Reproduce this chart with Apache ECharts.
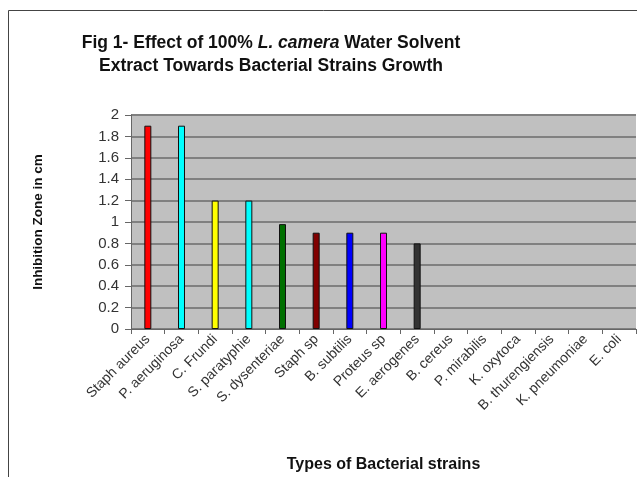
<!DOCTYPE html>
<html>
<head>
<meta charset="utf-8">
<script src="https://cdn.jsdelivr.net/npm/echarts@6/dist/echarts.min.js"></script>
<style>html,body{margin:0;padding:0;background:#fff;}#c{width:637px;height:477px;}</style>
</head>
<body>
<div id="c"></div>
<script>
var categories = ['Staph aureus','P. aeruginosa','C. Frundi','S. paratyphie','S. dysenteriae','Staph sp','B. subtilis','Proteus sp','E. aerogenes','B. cereus','P. mirabilis','K. oxytoca','B. thurengiensis','K. pneumoniae','E. coli'];
var values = [1.9, 1.9, 1.2, 1.2, 0.98, 0.9, 0.9, 0.9, 0.8, 0, 0, 0, 0, 0, 0];
var barColors = ['#ff0000','#00ffff','#ffff00','#00ffff','#007000','#800000','#0000ff','#ff00ff','#333333','#999999','#999999','#999999','#999999','#999999','#999999'];
var yTicks = [0, 0.2, 0.4, 0.6, 0.8, 1, 1.2, 1.4, 1.6, 1.8, 2];

var chart = echarts.init(document.getElementById('c'), null, {renderer: 'canvas'});
chart.setOption({
  animation: false,
  backgroundColor: '#ffffff',
  graphic: [{
    type: 'rect', shape: {x: 8.5, y: 10.5, width: 700, height: 600},
    style: {fill: 'none', stroke: '#444', lineWidth: 1}, z: -10
  }],
  title: {
    left: 266, top: 27, textAlign: 'center',
    text: '{a|Fig 1- Effect of 100% }{i|L. camera}{a| Water Solvent}\n{a|Extract Towards Bacterial Strains Growth}',
    textStyle: {
      rich: {
        a: {fontFamily: 'Liberation Sans, Arial', fontSize: 17.5, fontWeight: 'bold', color: '#111', lineHeight: 23},
        i: {fontFamily: 'Liberation Sans, Arial', fontSize: 17.5, fontWeight: 'bold', fontStyle: 'italic', color: '#111', lineHeight: 23}
      }
    }
  },
  grid: {left: 131, top: 115, right: 1, bottom: 148, containLabel: false,
    show: true, backgroundColor: '#c0c0c0', borderWidth: 0},
  xAxis: {
    type: 'category', data: categories,
    name: 'Types of Bacterial strains', nameLocation: 'middle', nameGap: 128,
    nameTextStyle: {fontFamily: 'Liberation Sans, Arial', fontSize: 16, fontWeight: 'bold', color: '#111'},
    axisLine: {show: true, lineStyle: {color: '#666', width: 1}},
    axisTick: {show: true, alignWithLabel: false, length: 5, lineStyle: {color: '#666'}},
    axisLabel: {rotate: 45, interval: 0, margin: 8, fontFamily: 'Liberation Sans, Arial', fontSize: 14, color: '#333'}
  },
  yAxis: {
    type: 'value', min: 0, max: 2, interval: 0.2,
    name: 'Inhibition Zone in cm', nameLocation: 'middle', nameGap: 86, nameRotate: 90,
    nameTextStyle: {fontFamily: 'Liberation Sans, Arial', fontSize: 13.5, fontWeight: 'bold', color: '#111'},
    axisLine: {show: true, lineStyle: {color: '#666', width: 1}},
    axisTick: {show: true, length: 6, lineStyle: {color: '#666'}},
    axisLabel: {margin: 12, fontFamily: 'Liberation Sans, Arial', fontSize: 15, color: '#333',
      formatter: function (v) { var s = String(Math.round(v * 10) / 10); return yTicks.indexOf(Number(s)) >= 0 ? s : ''; }},
    splitLine: {show: true, lineStyle: {color: '#808080', width: 2}}
  },
  series: [{
    type: 'bar', barWidth: 7,
    data: values.map(function (v, i) {
      return {value: v, itemStyle: {color: barColors[i], borderColor: '#111', borderWidth: v > 0 ? 1 : 0}};
    })
  }]
});
</script>
</body>
</html>
